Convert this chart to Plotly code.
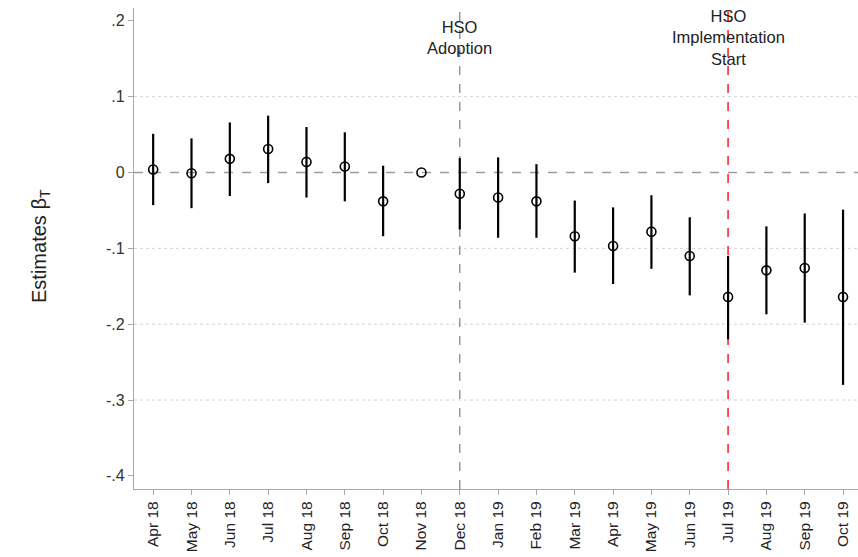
import plotly.graph_objects as go

months = ["Apr 18", "May 18", "Jun 18", "Jul 18", "Aug 18", "Sep 18", "Oct 18", "Nov 18",
          "Dec 18", "Jan 19", "Feb 19", "Mar 19", "Apr 19", "May 19", "Jun 19", "Jul 19",
          "Aug 19", "Sep 19", "Oct 19"]
estimates = [0.004, -0.001, 0.018, 0.031, 0.014, 0.008, -0.038, 0.0, -0.028, -0.033,
             -0.038, -0.084, -0.097, -0.078, -0.110, -0.164, -0.129, -0.126, -0.164]
ci_upper = [0.051, 0.045, 0.066, 0.075, 0.060, 0.053, 0.009, 0.0, 0.019, 0.020,
            0.011, -0.037, -0.046, -0.030, -0.059, -0.110, -0.071, -0.054, -0.049]
ci_lower = [-0.043, -0.047, -0.031, -0.014, -0.033, -0.038, -0.084, 0.0, -0.075, -0.086,
            -0.086, -0.132, -0.147, -0.127, -0.162, -0.220, -0.187, -0.198, -0.280]
y_ticks = [0.2, 0.1, 0.0, -0.1, -0.2, -0.3, -0.4]
y_tick_labels = [".2", ".1", "0", "-.1", "-.2", "-.3", "-.4"]
grid_vals = [0.1, -0.1, -0.2, -0.3]
adoption_idx = 8
implementation_idx = 15

xs = list(range(len(months)))
err_plus = [u - e for u, e in zip(ci_upper, estimates)]
err_minus = [e - l for e, l in zip(estimates, ci_lower)]

font_family = "Arial, Liberation Sans, sans-serif"
axis_color = "#a8a8a8"
y0, y1 = -0.4173, 0.2169

fig = go.Figure()

shapes = []
for g in grid_vals:
    shapes.append(dict(type="line", xref="paper", x0=0, x1=1, yref="y", y0=g, y1=g,
                       line=dict(color="#d4d4d4", width=1, dash="dot"), layer="below"))
shapes.append(dict(type="line", xref="paper", x0=0, x1=1, yref="y", y0=0, y1=0,
                   line=dict(color="#9a9a9a", width=1.5, dash="dash"), layer="below"))
shapes.append(dict(type="line", xref="x", x0=adoption_idx, x1=adoption_idx, yref="paper", y0=0, y1=1,
                   line=dict(color="#8a8a8a", width=1.3, dash="dash"), layer="below"))
shapes.append(dict(type="line", xref="x", x0=implementation_idx, x1=implementation_idx, yref="paper", y0=0, y1=1,
                   line=dict(color="#ff2a2a", width=1.6, dash="dash"), layer="below"))

fig.add_trace(go.Scatter(
    x=xs, y=estimates, mode="markers",
    marker=dict(symbol="circle-open", size=9, color="black", line=dict(width=1.6, color="black")),
    error_y=dict(type="data", symmetric=False, array=err_plus, arrayminus=err_minus,
                 color="black", thickness=2.2, width=0),
    showlegend=False, hoverinfo="skip",
))

annotations = [
    dict(x=adoption_idx, y=0.1776, xref="x", yref="y", text="HSO<br>Adoption", showarrow=False,
         font=dict(family=font_family, size=16.5, color="#222222"), align="center", yanchor="middle"),
    dict(x=implementation_idx, y=0.1776, xref="x", yref="y", text="HSO<br>Implementation<br>Start",
         showarrow=False, font=dict(family=font_family, size=16.5, color="#222222"), align="center",
         yanchor="middle"),
    dict(x=-0.13, y=0.505, xref="paper", yref="paper", text="Estimates β<sub>T</sub>",
         textangle=-90, showarrow=False, font=dict(family=font_family, size=20, color="#222222"),
         xanchor="center", yanchor="middle"),
]

fig.update_layout(
    width=858, height=557,
    margin=dict(l=134, r=0, t=8, b=68),
    paper_bgcolor="white", plot_bgcolor="white",
    font=dict(family=font_family, color="#333333"),
    shapes=shapes, annotations=annotations,
    xaxis=dict(range=[-0.5, 18.39], tickmode="array", tickvals=xs, ticktext=months,
               tickangle=-90, ticks="outside", ticklen=5, tickcolor=axis_color,
               showline=True, linecolor=axis_color, linewidth=1.3, showgrid=False, zeroline=False,
               tickfont=dict(size=15.5, color="#222222")),
    yaxis=dict(range=[y0, y1], tickmode="array", tickvals=y_ticks, ticktext=y_tick_labels,
               ticks="outside", ticklen=5, tickcolor=axis_color,
               showline=True, linecolor=axis_color, linewidth=1.3, showgrid=False, zeroline=False,
               tickfont=dict(size=16, color="#333333")),
)

fig.write_html("out.html", config={"displayModeBar": False},
               post_script="document.body.style.margin='0';document.body.style.overflow='hidden';")
